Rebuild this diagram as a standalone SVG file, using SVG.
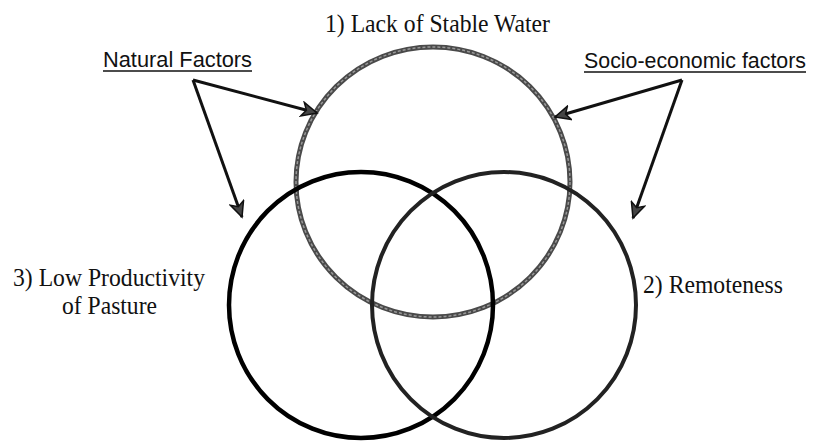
<svg xmlns="http://www.w3.org/2000/svg" width="815" height="441" viewBox="0 0 815 441">
<style>
.serif{font-family:"Liberation Serif","Times New Roman",serif;font-size:26px;fill:#111}
.sans{font-family:"Liberation Sans",Arial,sans-serif;font-size:22px;fill:#111}
.ul{stroke:#111;stroke-width:1.6}
.arrow{stroke:#111;stroke-width:3;fill:none;marker-end:url(#head)}
</style>
<defs>
<marker id="head" markerUnits="userSpaceOnUse" markerWidth="18" markerHeight="16" refX="16" refY="8" orient="auto">
<path d="M1,1 L16,8 L1,15 L5,8 Z" fill="#444" stroke="#111" stroke-width="1.5" stroke-linejoin="miter"/>
</marker>
</defs>
<rect width="815" height="441" fill="#fff"/>
<g id="circle-water">
<ellipse cx="433" cy="182" rx="137" ry="135" fill="none" stroke="#4a4a4a" stroke-width="5"/>
<ellipse cx="433" cy="182" rx="137" ry="135" fill="none" stroke="#999" stroke-width="1.5" stroke-dasharray="3 2"/>
<text class="serif" x="325" y="32" textLength="225" lengthAdjust="spacingAndGlyphs">1) Lack of Stable Water</text>
</g>
<g id="circle-pasture">
<ellipse cx="361" cy="305" rx="132" ry="133" fill="none" stroke="#000" stroke-width="4.5"/>
<text class="serif" x="13" y="286" textLength="192" lengthAdjust="spacingAndGlyphs">3) Low Productivity</text>
<text class="serif" x="62" y="314" textLength="95" lengthAdjust="spacingAndGlyphs">of Pasture</text>
</g>
<g id="circle-remoteness">
<ellipse cx="504" cy="305" rx="132" ry="133" fill="none" stroke="#222" stroke-width="4"/>
<text class="serif" x="643" y="293" textLength="140" lengthAdjust="spacingAndGlyphs">2) Remoteness</text>
</g>
<g id="label-natural">
<text class="sans" x="103" y="67" textLength="149" lengthAdjust="spacingAndGlyphs">Natural Factors</text>
<line class="ul" x1="103" y1="71" x2="252" y2="71"/>
</g>
<g id="label-socio">
<text class="sans" x="584" y="68" textLength="222" lengthAdjust="spacingAndGlyphs">Socio-economic factors</text>
<line class="ul" x1="584" y1="72" x2="806" y2="72"/>
</g>
<g id="connectors">
<line class="arrow" x1="193" y1="80" x2="317" y2="113"/>
<line class="arrow" x1="193" y1="80" x2="242" y2="217"/>
<line class="arrow" x1="682" y1="80" x2="555" y2="117"/>
<line class="arrow" x1="682" y1="80" x2="633" y2="218"/>
</g>
</svg>
